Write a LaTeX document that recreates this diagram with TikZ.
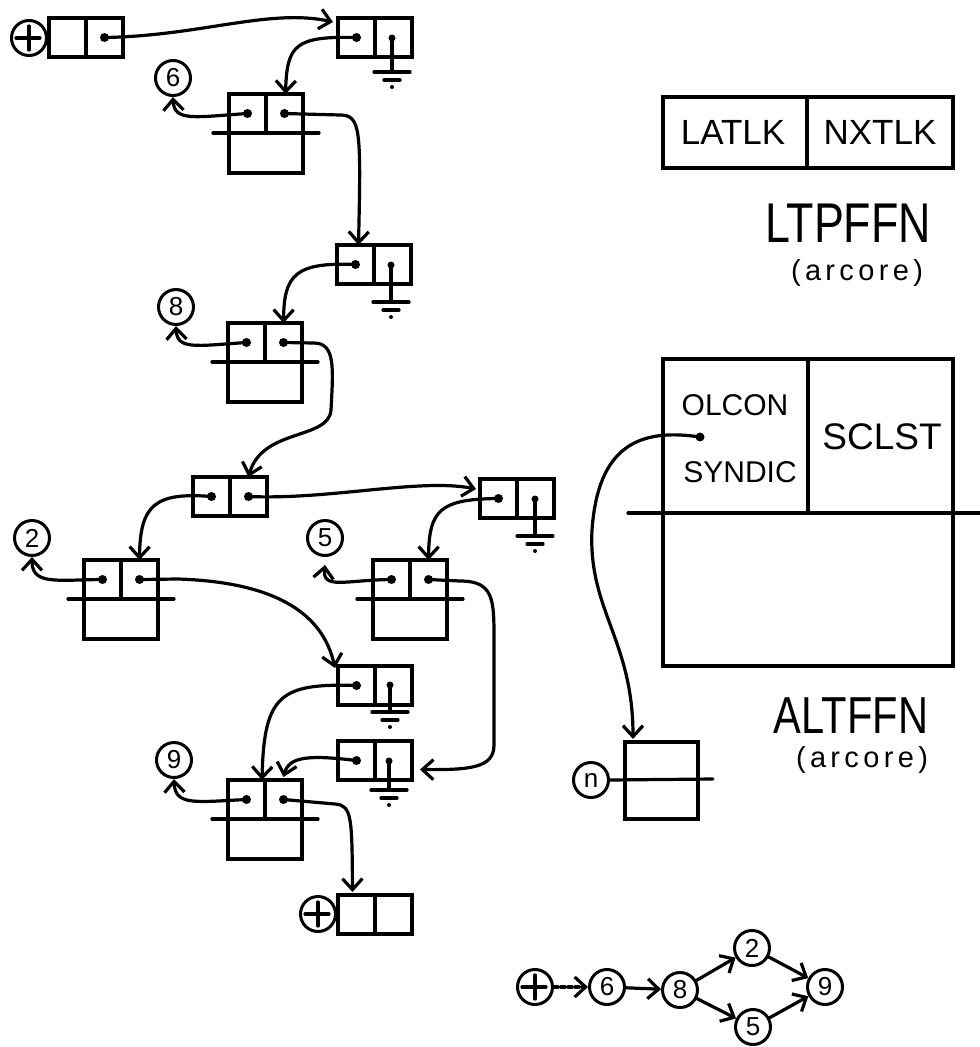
\documentclass[tikz,border=0pt]{standalone}
\usepackage{fontspec}
\setmainfont{Liberation Sans}
\newfontfamily\handn[FakeStretch=0.8]{Liberation Sans}
\newfontfamily\handsp[LetterSpace=15]{Liberation Sans}
\usetikzlibrary{arrows.meta}
\tikzset{
  ln/.style={line width=3.2pt, line cap=round, line join=round},
  cell/.style={draw, line width=3.2pt, minimum width=37pt, minimum height=39pt, inner sep=0pt, outer sep=0pt, anchor=north west},
  cellw/.style={draw, line width=3.2pt, minimum width=74pt, minimum height=40pt, inner sep=0pt, outer sep=0pt, anchor=north west},
  dotn/.style={circle, fill, inner sep=0pt, minimum size=9pt},
  circ/.style={circle, draw, line width=3pt, minimum size=35pt, inner sep=0pt, font=\fontsize{26}{26}\selectfont},
  arr/.style={ln, -{Straight Barb[length=11pt,width=20pt,line width=3.2pt]}},
  lbl/.style={inner sep=0pt},
}
\newcommand\pairbox[3]{%
  \node[cell] (#1l) at (#2,#3) {};
  \node[cell] (#1r) at (#1l.north east) {};
}
\newcommand\recbox[3]{%
  \pairbox{#1}{#2}{#3}
  \node[cellw] (#1b) at (#1l.south west) {};
  \draw[ln] ([xshift=-16pt]#1l.south west) -- ([xshift=16pt]#1r.south east);
  \node[dotn] (#1dl) at (#1l.center) {};
  \node[dotn] (#1dr) at (#1r.center) {};
}
\newcommand\gnd[4]{%
  \node[dotn, minimum size=7pt] (#1) at (#2,#3) {};
  \draw[ln] (#1.center) -- (#2,#4);
  \draw[ln] (#2-18,#4) -- (#2+18,#4);
  \draw[ln] (#2-8,#4+8) -- (#2+8,#4+8);
  \fill (#2,#4+15) circle (2);
}
\newcommand\plusin[1]{%
  \draw[ln] ([xshift=-13pt]#1.center) -- ([xshift=11pt]#1.center);
  \draw[ln] ([yshift=12pt]#1.center) -- ([yshift=-12pt]#1.center);
}
\begin{document}
\begin{tikzpicture}[x=1pt, y=-1pt]
\useasboundingbox (0,0) rectangle (980,1047);

% ---------- head ----------
\pairbox{H}{49}{18}
\node[circ] (Hp) at (29,38) {};
\plusin{Hp}
\node[dotn] (Hd) at (Hr.center) {};

% ---------- records ----------
\recbox{R6}{229}{94}
\recbox{R8}{228}{323}
\recbox{R2}{84}{560}
\recbox{R5}{373}{560}
\recbox{R9}{228}{780}

% ---------- pair boxes ----------
\pairbox{G1}{338}{18}
\node[dotn] (G1d) at (G1l.center) {};
\gnd{G1g}{392}{38}{72}

\pairbox{G2}{337}{245}
\node[dotn] (G2d) at (G2l.center) {};
\gnd{G2g}{391}{265}{302}

\pairbox{C}{193}{477}
\node[dotn] (Cdl) at (Cl.center) {};
\node[dotn] (Cdr) at (Cr.center) {};

\pairbox{G3}{480}{479}
\node[dotn] (G3d) at (G3l.center) {};
\gnd{G3g}{535}{499}{536}

\pairbox{GA}{338}{666}
\node[dotn] (GAd) at (GAl.center) {};
\gnd{GAg}{390}{685}{712}

\pairbox{GB}{338}{741}
\node[dotn] (GBd) at (GBl.center) {};
\gnd{GBg}{389}{761}{790}

\pairbox{T}{338}{895}
\node[circ] (Tp) at (318,914) {};
\plusin{Tp}

% ---------- value circles ----------
\node[circ] (c6) at (173,78) {6};
\node[circ] (c8) at (176,307) {8};
\node[circ] (c2) at (32,538) {2};
\node[circ] (c5) at (325,538) {5};
\node[circ] (c9) at (174,760) {9};

% ---------- connectors ----------
\draw[arr] (Hd.center) .. controls (200,36) and (270,8) .. ([xshift=-5pt,yshift=-4pt]G1l.north west);
\draw[arr] (G1d.center) .. controls (295,36) and (287,45) .. ([xshift=1pt]R6r.north);
\draw[arr] (R6dl.center) .. controls (195,117) and (174,122) .. (c6.south);
\draw[arr] (R6dr.center) -- (340,115) .. controls (361,115) and (361,130) .. ([xshift=3pt]G2l.north);
\draw[arr] (G2d.center) .. controls (295,262) and (284,275) .. (R8r.north);
\draw[arr] (R8dl.center) .. controls (195,346) and (177,350) .. (c8.south);
\draw[arr] (R8dr.center) -- (314,343) .. controls (336,343) and (333,370) .. (331,410) .. controls (329,440) and (262,428) .. (Cr.north);
\draw[arr] (Cdl.center) .. controls (155,492) and (140,505) .. (R2r.north);
\draw[arr] (Cdr.center) .. controls (330,500) and (420,478) .. ([xshift=-4pt,yshift=-10pt]G3l.north west);
\draw[arr] (G3d.center) .. controls (440,499) and (429,510) .. (R5r.north);
\draw[arr] (R2dl.center) .. controls (55,580) and (32,585) .. (c2.south);
\draw[arr] (R5dl.center) .. controls (345,580) and (322,590) .. ([yshift=-8pt]c5.south);
\draw[arr] (R2dr.center) -- (178,579) .. controls (270,582) and (322,610) .. ([xshift=-3pt,yshift=-2pt]GAl.north west);
\draw[arr] (R5dr.center) -- (460,581) .. controls (494,581) and (494,600) .. (494,640) -- (494,745) .. controls (494,768) and (470,770) .. ([xshift=8pt,yshift=-9pt]GBr.east);
\draw[arr] (GAd.center) .. controls (280,683) and (264,695) .. ([xshift=-3pt]R9l.north east);
\draw[arr] (GBd.center) .. controls (310,755) and (289,756) .. ([yshift=3pt]R9r.north);
\draw[arr] (R9dl.center) .. controls (195,802) and (175,806) .. (c9.south);
\draw[arr] (R9dr.center) -- (335,804) .. controls (352,805) and (352,818) .. ([xshift=-4pt,yshift=3pt]Tl.north);

% ---------- LTPFFN record ----------
\node[draw, line width=3.2pt, minimum width=144pt, minimum height=71pt, inner sep=0pt, outer sep=0pt, anchor=north west] (LA) at (663,97) {};
\node[draw, line width=3.2pt, minimum width=146pt, minimum height=71pt, inner sep=0pt, outer sep=0pt, anchor=north west] (NX) at (LA.north east) {};
\node[lbl, font=\fontsize{35}{35}\selectfont] (tLA) at (733,132) {LATLK};
\node[lbl, font=\fontsize{35}{35}\selectfont] (tNX) at (880,132) {NXTLK};
\node[lbl, font=\handn\fontsize{56}{56}\selectfont] (tLT) at (848,223) {LTPFFN};
\node[lbl, font=\handsp\fontsize{29}{29}\selectfont] (tLTa) at (857,273) {(arcore)};

% ---------- ALTFFN record ----------
\node[draw, line width=3.2pt, minimum width=290pt, minimum height=307pt, inner sep=0pt, outer sep=0pt, anchor=north west] (AF) at (663,359) {};
\draw[ln] (808,359) -- (808,513);
\draw[ln] (628,513) -- (980,513);
\node[lbl, font=\fontsize{30}{30}\selectfont] (tOL) at (735,405) {OLCON};
\node[lbl, font=\fontsize{30}{30}\selectfont] (tSY) at (740,472) {SYNDIC};
\node[lbl, font=\fontsize{37}{37}\selectfont] (tSC) at (882,437) {SCLST};
\node[dotn] (Od) at (700,437) {};
\node[lbl, font=\handn\fontsize{52}{52}\selectfont] (tAL) at (851,716) {ALTFFN};
\node[lbl, font=\handsp\fontsize{29}{29}\selectfont] (tALa) at (862,760) {(arcore)};

% ---------- n node ----------
\node[draw, line width=3.2pt, minimum width=73pt, minimum height=77pt, inner sep=0pt, outer sep=0pt, anchor=north west] (nb) at (625,742) {};
\node[circ] (cn) at (591,780) {n};
\draw[ln] (cn.east) -- (713,779);
\draw[arr] (Od.center) .. controls (640,428) and (598,445) .. (592,530) .. controls (588,610) and (633,640) .. ([xshift=8pt,yshift=3pt]nb.north west);

% ---------- summary graph ----------
\node[circ] (gp) at (535,987) {};
\plusin{gp}
\node[circ] (g6) at (607,987) {6};
\node[circ] (g8) at (680,990) {8};
\node[circ] (g2) at (752,948) {2};
\node[circ] (g5) at (753,1027) {5};
\node[circ] (g9) at (825,987) {9};
\draw[arr, dash pattern=on 4pt off 3pt] (gp) -- (g6);
\draw[arr] (g6) -- (g8);
\draw[arr] (g8) -- (g2);
\draw[arr] (g8) -- (g5);
\draw[arr] (g2) -- (g9);
\draw[arr] (g5) -- (g9);
\end{tikzpicture}
\end{document}
